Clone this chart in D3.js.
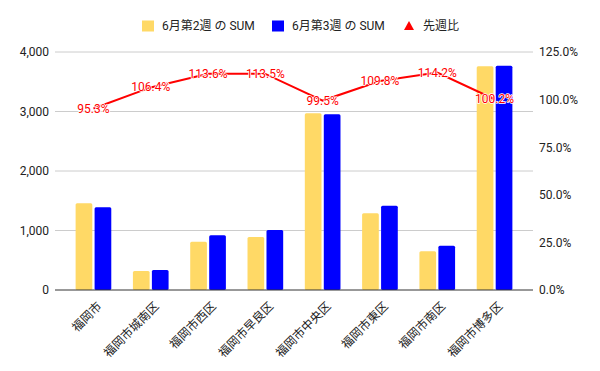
<!DOCTYPE html>
<html>
<head>
<meta charset="utf-8">
<script src="https://cdn.jsdelivr.net/npm/d3@7"></script>
<style>
  body { margin: 0; background: #fff; }
  svg { display: block; font-family: Roboto, 'Noto Sans CJK JP', sans-serif; }
</style>
</head>
<body>
<div id="chart"></div>
<script>
// Data
const categories = ['福岡市', '福岡市城南区', '福岡市西区', '福岡市早良区', '福岡市中央区', '福岡市東区', '福岡市南区', '福岡市博多区'];
const week2 = [1457, 318, 810, 890, 2970, 1290, 650, 3760];
const week3 = [1390, 338, 920, 1010, 2955, 1416, 742, 3768];
const ratio = [95.3, 106.4, 113.6, 113.5, 99.5, 109.8, 114.2, 100.2];
const leftTicks = [0, 1000, 2000, 3000, 4000];
const rightTicks = [0, 25, 50, 75, 100, 125];
const seriesNames = ['6月第2週 の SUM', '6月第3週 の SUM', '先週比'];

const COLORS = { w2: '#ffd966', w3: '#0000ff', ratio: '#ff0000' };
const W = 600, H = 371;
const PLOT = { left: 55, right: 533, top: 52, bottom: 290 };

const svg = d3.select('#chart').append('svg')
  .attr('width', W).attr('height', H);

const x = d3.scaleBand().domain(categories)
  .range([PLOT.left, PLOT.right])
  .paddingInner(0).paddingOuter(0.171);
const xSub = d3.scaleBand().domain([0, 1])
  .range([0, x.bandwidth()])
  .paddingInner(0.12).paddingOuter(0.57);
const y = d3.scaleLinear().domain([0, 4000]).range([PLOT.bottom, PLOT.top]);
const yR = d3.scaleLinear().domain([0, 125]).range([PLOT.bottom, PLOT.top]);

// Gridlines
svg.append('g')
  .selectAll('line')
  .data(leftTicks.filter(t => t > 0))
  .join('line')
    .attr('x1', PLOT.left).attr('x2', PLOT.right)
    .attr('y1', d => y(d)).attr('y2', d => y(d))
    .attr('stroke', '#cccccc').attr('stroke-width', 1);

// Left axis
const fmt = d3.format(',');
svg.append('g')
  .attr('transform', `translate(${PLOT.left},0)`)
  .call(d3.axisLeft(y).tickValues(leftTicks).tickFormat(fmt).tickSize(0).tickPadding(6))
  .call(ax => ax.select('.domain').remove())
  .call(ax => ax.selectAll('text').attr('font-size', 12).attr('fill', '#222')
    .attr('font-family', 'Roboto, sans-serif'));

// Right axis
svg.append('g')
  .attr('transform', `translate(${PLOT.right},0)`)
  .call(d3.axisRight(yR).tickValues(rightTicks).tickFormat(d => d.toFixed(1) + '%').tickSize(0).tickPadding(6))
  .call(ax => ax.select('.domain').remove())
  .call(ax => ax.selectAll('text').attr('font-size', 12).attr('fill', '#222')
    .attr('font-family', 'Roboto, sans-serif'));

// Bars
const groups = svg.append('g').selectAll('g')
  .data(categories.map((c, i) => ({ c, vals: [week2[i], week3[i]] })))
  .join('g')
    .attr('transform', d => `translate(${x(d.c)},0)`);

groups.selectAll('rect')
  .data(d => d.vals.map((v, k) => ({ k, v })))
  .join('rect')
    .attr('x', d => xSub(d.k))
    .attr('y', d => y(d.v))
    .attr('width', xSub.bandwidth())
    .attr('height', d => y(0) - y(d.v))
    .attr('rx', 1.5)
    .attr('fill', d => d.k === 0 ? COLORS.w2 : COLORS.w3);

// Baseline
svg.append('line')
  .attr('x1', PLOT.left).attr('x2', PLOT.right)
  .attr('y1', y(0)).attr('y2', y(0))
  .attr('stroke', '#333').attr('stroke-width', 1);

// Ratio line
const cx = c => x(c) + x.bandwidth() / 2;
const line = d3.line()
  .x((d, i) => cx(categories[i]))
  .y(d => yR(d));
svg.append('path')
  .datum(ratio)
  .attr('d', line)
  .attr('fill', 'none')
  .attr('stroke', COLORS.ratio)
  .attr('stroke-width', 2);

// Ratio labels
svg.append('g').selectAll('text')
  .data(ratio)
  .join('text')
    .attr('x', (d, i) => cx(categories[i]))
    .attr('y', d => yR(d))
    .attr('text-anchor', 'middle')
    .attr('dominant-baseline', 'central')
    .attr('font-size', 12)
    .attr('font-family', 'Roboto, sans-serif')
    .attr('fill', COLORS.ratio)
    .attr('stroke', '#fff').attr('stroke-width', 1.5)
    .attr('paint-order', 'stroke')
    .text(d => d.toFixed(1) + '%');

// X labels (rotated)
svg.append('g').selectAll('text')
  .data(categories)
  .join('text')
    .attr('transform', c => `translate(${cx(c) + 9},${PLOT.bottom + 17}) rotate(-45)`)
    .attr('text-anchor', 'end')
    .attr('font-size', 12)
    .attr('fill', '#222')
    .text(c => c);

// Legend
const legend = svg.append('g').attr('transform', 'translate(0,26)');
const legendItems = [
  { name: seriesNames[0], color: COLORS.w2, shape: 'rect', x: 142 },
  { name: seriesNames[1], color: COLORS.w3, shape: 'rect', x: 272 },
  { name: seriesNames[2], color: COLORS.ratio, shape: 'tri', x: 403 }
];
legendItems.forEach(it => {
  const g = legend.append('g').attr('transform', `translate(${it.x},0)`);
  if (it.shape === 'rect') {
    g.append('rect').attr('x', 0).attr('y', -5.5).attr('width', 12).attr('height', 11)
      .attr('fill', it.color);
  } else {
    g.append('path').attr('d', 'M6,-5 L11,4 L1,4 Z').attr('fill', it.color);
  }
  g.append('text')
    .attr('x', 20)
    .attr('dominant-baseline', 'central')
    .attr('font-size', 12)
    .attr('fill', '#222')
    .text(it.name);
});
</script>
</body>
</html>
